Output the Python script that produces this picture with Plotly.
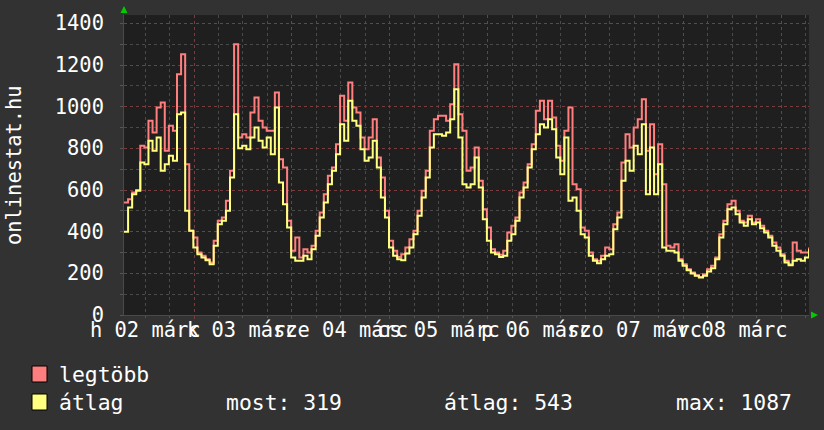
import plotly.graph_objects as go
import pandas as pd

# ---- data (hourly samples) ----
start_time = "2009-03-02 06:50"
legtobb = [540, 556, 588, 600, 812, 804, 932, 876, 996, 1020, 788, 908, 884, 1156, 1252, 724, 404, 372, 300, 284,
           268, 252, 356, 452, 468, 548, 692, 1300, 852, 868, 852, 972, 1044, 932, 900, 884, 884, 1068, 748, 708,
           452, 308, 372, 276, 316, 300, 332, 404, 492, 580, 668, 708, 820, 1052, 932, 1116, 996, 972, 852, 796,
           852, 940, 756, 660, 500, 356, 308, 279, 292, 324, 364, 404, 500, 596, 692, 884, 940, 956, 956, 932,
           1012, 1204, 964, 884, 692, 708, 804, 644, 508, 420, 316, 300, 289, 308, 396, 428, 468, 588, 636, 724,
           820, 980, 1028, 940, 1028, 948, 812, 740, 884, 996, 628, 604, 420, 404, 300, 268, 260, 284, 324, 316,
           436, 492, 732, 868, 804, 900, 940, 1036, 788, 916, 676, 820, 628, 332, 324, 340, 268, 244, 220, 204,
           191, 183, 196, 220, 236, 276, 388, 452, 532, 548, 500, 452, 444, 476, 444, 460, 428, 404, 380, 348,
           324, 292, 260, 244, 348, 308, 300, 300, 324]
atlag = [400, 516, 580, 596, 732, 724, 836, 788, 852, 692, 724, 764, 740, 964, 972, 500, 404, 324, 292, 276,
         263, 244, 332, 436, 452, 500, 660, 964, 800, 812, 796, 852, 900, 836, 804, 852, 772, 996, 636, 532,
         420, 276, 260, 260, 284, 268, 316, 380, 468, 540, 628, 692, 772, 916, 836, 1028, 932, 908, 796, 740,
         756, 836, 708, 564, 468, 324, 284, 268, 263, 295, 324, 388, 476, 564, 660, 804, 868, 868, 860, 876,
         940, 1084, 852, 628, 612, 628, 756, 612, 460, 356, 300, 292, 279, 284, 356, 388, 452, 564, 612, 708,
         796, 868, 916, 900, 940, 892, 756, 676, 852, 548, 564, 500, 388, 372, 284, 260, 249, 268, 284, 292,
         412, 468, 644, 740, 692, 812, 772, 916, 580, 804, 580, 724, 324, 308, 308, 300, 260, 236, 215, 199,
         188, 180, 188, 209, 225, 268, 372, 436, 508, 516, 484, 444, 428, 460, 436, 444, 417, 396, 372, 332,
         308, 284, 252, 239, 260, 268, 260, 276, 316]
day_labels = ["h 02 márc", "k 03 márc", "sze 04 márc", "cs 05 márc", "p 06 márc", "szo 07 márc", "v 08 márc"]
label_noons = ["2009-03-02 12:00", "2009-03-03 12:00", "2009-03-04 12:00", "2009-03-05 12:00",
               "2009-03-06 12:00", "2009-03-07 12:00", "2009-03-08 12:00"]
y_ticks = [0, 200, 400, 600, 800, 1000, 1200, 1400]
legend_names = ["legtöbb", "átlag"]
stat_texts = ["most: 319", "átlag: 543", "max: 1087"]
y_title = "onlinestat.hu"

# ---- styling ----
FONT = "DejaVu Sans Mono"
FS = 20.4
FS_LEG = 21.4
W, H = 824, 430
PL, PR, PT, PB = 124, 809, 15, 315
RED = "#ff7f7f"
YEL = "#ffff80"

t0 = pd.Timestamp(start_time)
times = pd.date_range(t0, periods=len(atlag), freq="h")
t_end = t0 + pd.Timedelta(hours=168)


def px(x):
    return (x - PL) / (PR - PL)


def py(y):
    return (PB - y) / (PB - PT)


fig = go.Figure()
fig.add_trace(go.Scatter(x=times, y=legtobb, mode="lines", line=dict(color=RED, width=2, shape="hv"),
                         name=legend_names[0], showlegend=False))
fig.add_trace(go.Scatter(x=times, y=atlag, mode="lines", line=dict(color=YEL, width=2, shape="hv"),
                         name=legend_names[1], showlegend=False))

annotations = []
for lab, t in zip(day_labels, label_noons):
    annotations.append(dict(x=t, xref="x", y=py(330), yref="paper", text=lab, showarrow=False,
                            xanchor="center", yanchor="middle", font=dict(family=FONT, size=FS, color="white")))
annotations.append(dict(x=px(14), xref="paper", y=0.5, yref="paper", text=y_title, textangle=-90,
                        showarrow=False, xanchor="center", yanchor="middle",
                        font=dict(family=FONT, size=FS, color="white")))
# legend
annotations.append(dict(x=px(57), xref="paper", y=py(374), yref="paper", text=legend_names[0], showarrow=False,
                        xanchor="left", yanchor="middle", font=dict(family=FONT, size=FS_LEG, color="white")))
annotations.append(dict(x=px(57), xref="paper", y=py(402), yref="paper", text=legend_names[1], showarrow=False,
                        xanchor="left", yanchor="middle", font=dict(family=FONT, size=FS_LEG, color="white")))
for txt, xx in zip(stat_texts, [224, 442, 674]):
    annotations.append(dict(x=px(xx), xref="paper", y=py(402), yref="paper", text=txt, showarrow=False,
                            xanchor="left", yanchor="middle", font=dict(family=FONT, size=FS_LEG, color="white")))

shapes = []
for yc, col in [(374, RED), (402, YEL)]:
    shapes.append(dict(type="rect", xref="paper", yref="paper", x0=px(32), x1=px(47), y0=py(yc - 8), y1=py(yc + 8),
                       fillcolor=col, line=dict(color="black", width=1)))
# green arrows
shapes.append(dict(type="path", xref="paper", yref="paper",
                   path=f"M {px(120.5)} {py(13)} L {px(127.5)} {py(13)} L {px(124)} {py(6)} Z",
                   fillcolor="#00cc00", line=dict(width=0)))
shapes.append(dict(type="path", xref="paper", yref="paper",
                   path=f"M {px(811)} {py(311.5)} L {px(811)} {py(318.5)} L {px(818)} {py(315)} Z",
                   fillcolor="#00cc00", line=dict(width=0)))

fig.update_layout(
    width=W, height=H,
    margin=dict(l=PL, r=W - PR, t=PT, b=H - PB, pad=0),
    paper_bgcolor="#323232", plot_bgcolor="#1f1f1f",
    font=dict(family=FONT, size=FS, color="white"),
    showlegend=False,
    annotations=annotations, shapes=shapes,
    xaxis=dict(type="date", range=[t0, t_end], showticklabels=False,
               dtick=86400000, tick0="2009-03-03 00:00",
               showgrid=True, gridcolor="#7a3c3c", griddash="dot", gridwidth=1,
               ticks="outside", ticklen=3, tickcolor="#7a3c3c",
               minor=dict(dtick=21600000, tick0="2009-03-03 00:00", showgrid=True, gridcolor="#4a4a4a",
                          griddash="dot", ticks="outside", ticklen=2, tickcolor="#555555"),
               showline=True, linecolor="#4a4a4a", zeroline=False, fixedrange=True),
    yaxis=dict(range=[0, 1440], tickvals=y_ticks, ticktext=[str(v) for v in y_ticks],
               showgrid=True, gridcolor="#7a3c3c", griddash="dot", gridwidth=1,
               ticks="outside", ticklen=3, tickcolor="#555555", ticklabelstandoff=12,
               tickfont=dict(family=FONT, size=FS, color="white"),
               minor=dict(dtick=100, showgrid=True, gridcolor="#4a4a4a", griddash="dot",
                          ticks="outside", ticklen=3, tickcolor="#555555"),
               showline=True, linecolor="#4a4a4a", zeroline=False, fixedrange=True),
)

fig.write_html("out.html", config={"displayModeBar": False},
               post_script="document.body.style.margin='0px';document.body.style.background='#323232';")
